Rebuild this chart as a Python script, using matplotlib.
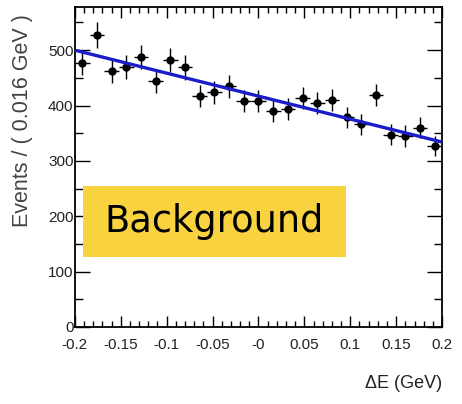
import matplotlib.pyplot as plt
from matplotlib.ticker import MultipleLocator, FixedLocator, FixedFormatter

# binned Delta E distribution, 25 bins of 0.016 GeV from -0.2 to 0.2
bin_lo = -0.2
bin_width = 0.016
events = [477, 527, 463, 470, 488, 444, 482, 469, 417, 424, 435, 408, 408,
          391, 393, 413, 404, 410, 379, 366, 419, 347, 345, 360, 327]
errors = [22, 23, 22, 22, 22, 21, 22, 22, 20, 21, 21, 20, 20,
          20, 20, 20, 20, 20, 19, 19, 20, 19, 19, 19, 18]

# linear background fit: events = intercept + slope * dE
fit_intercept = 417
fit_slope = -415

xtick_vals = [-0.2, -0.15, -0.1, -0.05, 0.0, 0.05, 0.1, 0.15, 0.2]
xtick_text = ['-0.2', '-0.15', '-0.1', '-0.05', '-0', '0.05', '0.1', '0.15', '0.2']

plt.rcParams['font.family'] = ['Liberation Sans', 'DejaVu Sans']

fig = plt.figure(figsize=(4.62, 4.04), dpi=100)
ax = fig.add_axes([0.162, 0.1906, 0.795, 0.7921])

centers = [bin_lo + bin_width * (i + 0.5) for i in range(len(events))]
ax.errorbar(centers, events, yerr=errors, xerr=bin_width / 2, fmt='o',
            color='black', ms=5, elinewidth=1.0, capsize=0, zorder=3)

fx = [-0.2, 0.2]
fy = [fit_intercept + fit_slope * v for v in fx]
ax.plot(fx, fy, color='#1c1cc8', lw=2.4, zorder=4)

ax.set_xlim(-0.2, 0.2)
ax.set_ylim(0, 578)

ax.xaxis.set_major_locator(FixedLocator(xtick_vals))
ax.xaxis.set_major_formatter(FixedFormatter(xtick_text))
ax.xaxis.set_minor_locator(MultipleLocator(0.01))
ax.yaxis.set_major_locator(MultipleLocator(100))
ax.yaxis.set_minor_locator(MultipleLocator(50))

ax.tick_params(which='both', direction='in', top=True, right=True,
               labelsize=11, labelcolor='#222222', width=1.0)
ax.tick_params(axis='y', which='major', length=11, pad=1)
ax.tick_params(axis='y', which='minor', length=6)
ax.tick_params(axis='x', which='major', length=8, pad=8)
ax.tick_params(axis='x', which='minor', length=4)
for sp in ax.spines.values():
    sp.set_linewidth(1.3)

# yellow label box
ax.text((214 - 75) / 367, (327 - 222) / 320, 'Background', transform=ax.transAxes,
        fontsize=26.5, color='black', family='DejaVu Sans', ha='center', va='center',
        zorder=5)
box = plt.Rectangle((8 / 367, 70 / 320), 263 / 367, 71 / 320, transform=ax.transAxes,
                    facecolor='#f9d33f', edgecolor='none', zorder=2)
ax.add_patch(box)

fig.text(23 / 462, 1 - 14 / 404, 'Events / ( 0.016 GeV )', rotation=90,
         ha='center', va='top', fontsize=15.5, color='#444444')
fig.text(442 / 462, 1 - 383 / 404, '\u0394E (GeV)', ha='right', va='center',
         fontsize=13, color='#222222')

fig.savefig('out.png', dpi=100)
